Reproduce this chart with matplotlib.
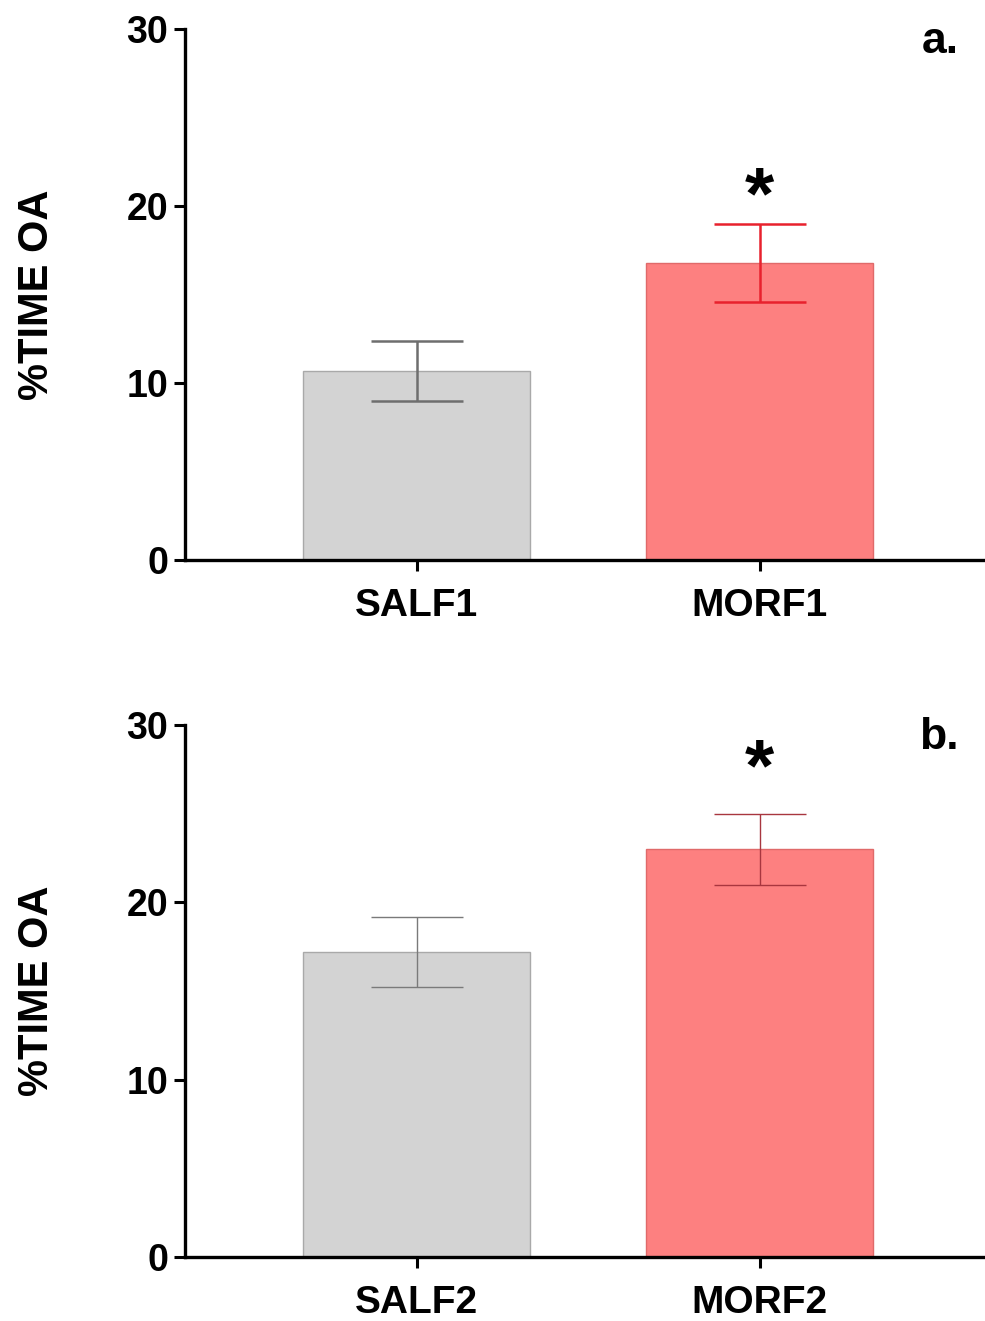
import matplotlib
matplotlib.use('Agg')
import matplotlib.pyplot as plt

plt.rcParams['font.family'] = ['Liberation Sans', 'DejaVu Sans']
plt.rcParams['font.weight'] = 'bold'

# data (mean, SEM)
groups_a = ['SALF1', 'MORF1']
means_a = [10.7, 16.8]
sem_a = [1.7, 2.2]

groups_b = ['SALF2', 'MORF2']
means_b = [17.2, 23.0]
sem_b = [2.0, 2.0]

sig_a = ['', '*']
sig_b = ['', '*']
star_y_a = 20.4
star_y_b = 27.4

panel_labels = ['a.', 'b.']
yticks = [0, 10, 20, 30]

fill_colors = ['#d3d3d3', '#fd8080']
edge_colors = ['#a9a9a9', '#e06a6a']
err_colors_a = ['#6e6e6e', '#e8212d']
err_colors_b = ['#7a7a7a', '#a8363f']

fig = plt.figure(figsize=(9.85, 13.21), dpi=100)
ax_a = fig.add_axes([0.1878, 0.576, 0.812, 0.402])
ax_b = fig.add_axes([0.1878, 0.0484, 0.812, 0.4028])


def draw_panel(ax, groups, means, sems, err_colors, sig, star_y, label, elw):
    x = list(range(len(groups)))
    ax.bar(x, means, width=0.662, color=fill_colors, edgecolor=edge_colors,
           linewidth=1.0, zorder=2)
    for xi, m, s, c in zip(x, means, sems, err_colors):
        ax.errorbar(xi, m, yerr=s, fmt='none', ecolor=c, elinewidth=elw,
                    capsize=33, capthick=elw, zorder=3)
    for xi, t in zip(x, sig):
        if t:
            ax.text(xi, star_y, t, ha='center', va='center', fontsize=54,
                    fontweight='bold')
    ax.set_xlim(-0.676, 1.656)
    ax.set_ylim(0, 30)
    ax.set_yticks(yticks)
    ax.set_xticks(x)
    ax.set_xticklabels(groups)
    ax.tick_params(axis='y', labelsize=27, width=2.2, length=8, pad=4)
    ax.tick_params(axis='x', labelsize=28, width=2.2, length=8, pad=12)
    for side in ['top', 'right']:
        ax.spines[side].set_visible(False)
    for side in ['left', 'bottom']:
        ax.spines[side].set_linewidth(2.4)
    ax.set_ylabel('%TIME OA', fontsize=30, fontweight='bold')
    ax.yaxis.set_label_coords(-0.16, 0.5)
    ax.text(0.967, 0.955, label, transform=ax.transAxes, ha='right',
            va='baseline', fontsize=32, fontweight='bold')


draw_panel(ax_a, groups_a, means_a, sem_a, err_colors_a, sig_a, star_y_a,
           panel_labels[0], 1.8)
draw_panel(ax_b, groups_b, means_b, sem_b, err_colors_b, sig_b, star_y_b,
           panel_labels[1], 1.0)

fig.savefig('out.png', dpi=100)
